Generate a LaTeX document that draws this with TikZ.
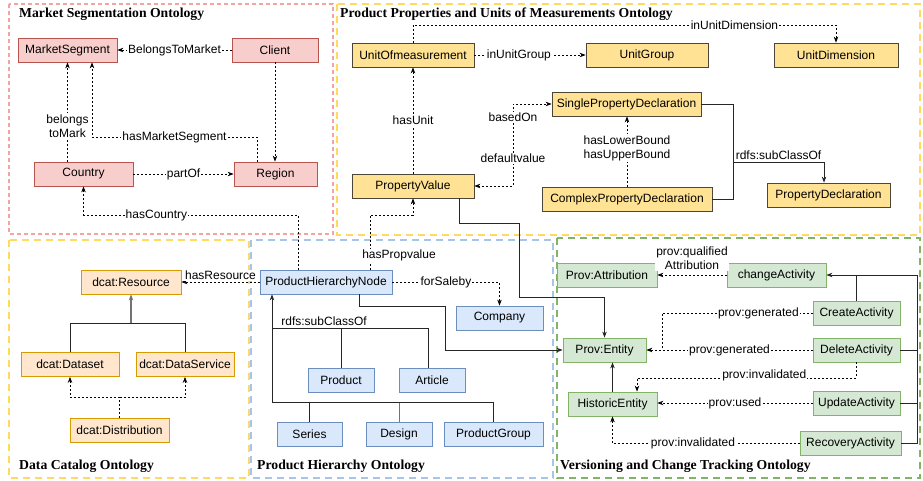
\documentclass[tikz,border=0pt]{standalone}
\usepackage{fontspec}
\setmainfont{Liberation Serif}
\setsansfont{Liberation Sans}
\usepackage{tikz}
\usetikzlibrary{positioning,arrows.meta,calc}
\definecolor{pinkfill}{HTML}{F8CECC}
\definecolor{pinkline}{HTML}{B85450}
\definecolor{pinkframe}{HTML}{F4A3A1}
\definecolor{yelfill}{HTML}{FFE293}
\definecolor{yelline}{HTML}{4D4536}
\definecolor{yelframe}{HTML}{FFD966}
\definecolor{orgfill}{HTML}{FFE6CC}
\definecolor{orgline}{HTML}{D79B00}
\definecolor{bluefill}{HTML}{DAE8FC}
\definecolor{blueline}{HTML}{6C8EBF}
\definecolor{blueframe}{HTML}{A9C4EB}
\definecolor{greenfill}{HTML}{D5E8D4}
\definecolor{greenline}{HTML}{82B366}
\newcommand{\lblfont}{\sffamily\fontsize{12}{14}\selectfont}
\tikzset{
  obj/.style={rectangle,line width=0.8pt,minimum height=24pt,inner sep=2pt,
    font=\lblfont},
  pk/.style={obj,draw=pinkline,fill=pinkfill},
  yl/.style={obj,draw=yelline,fill=yelfill},
  og/.style={obj,draw=orgline,fill=orgfill},
  bl/.style={obj,draw=blueline,fill=bluefill},
  gr/.style={obj,draw=greenline,fill=greenfill},
  pkframe/.style={draw=pinkframe,line width=1.4pt,dash pattern=on 4pt off 3pt},
  ylframe/.style={draw=yelframe,line width=1.8pt,dash pattern=on 7pt off 5pt},
  blframe/.style={draw=blueframe,line width=1.4pt,dash pattern=on 7pt off 5pt},
  grframe/.style={draw=greenline,line width=1.8pt,dash pattern=on 7pt off 5pt},
  grp/.style={font=\bfseries\fontsize{13.7}{15}\selectfont,anchor=west,inner sep=0pt},
  lbl/.style={fill=white,inner sep=1pt,font=\lblfont},
  dd/.style={draw=black,line width=0.7pt,dash pattern=on 2pt off 2pt},
  dl/.style={dd,-{Stealth[length=6pt,width=4.5pt]}},
  dlr/.style={dd,{Stealth[length=6pt,width=4.5pt]}-{Stealth[length=6pt,width=4.5pt]}},
  sl/.style={draw=black!85,line width=0.8pt},
  sla/.style={sl,-{Stealth[length=6pt,width=4.5pt]}},
}
\begin{document}
\begin{tikzpicture}[x=1pt,y=-1pt]
  \useasboundingbox (0,0) rectangle (923,481);
  % ontology frames
  \draw[pkframe] (9,4) rectangle (333,234);
  \draw[ylframe] (337,4) rectangle (920,235);
  \draw[ylframe] (9,240) rectangle (249,478);
  \draw[blframe] (251,240) rectangle (553,478);
  \draw[grframe] (557,238) rectangle (920,478);
  \node[grp] (tms) at (19,14) {Market Segmentation Ontology};
  \node[grp] (tpp) at (340,14) {Product Properties and Units of Measurements Ontology};
  \node[grp] (tdc) at (19,466) {Data Catalog Ontology};
  \node[grp] (tph) at (257,466) {Product Hierarchy Ontology};
  \node[grp] (tvc) at (560,466) {Versioning and Change Tracking Ontology};

  % market segmentation
  \node[pk,minimum width=99pt] (ms) at (67.5,50) {MarketSegment};
  \node[pk,minimum width=86pt] (cli) at (275,50) {Client};
  \node[pk,minimum width=99pt] (cty) at (83.5,174) {Country};
  \node[pk,minimum width=83pt] (reg) at (275.5,174) {Region};

  % product properties
  \node[yl,minimum width=122pt] (uom) at (413,55) {UnitOfmeasurement};
  \node[yl,minimum width=122pt] (ugr) at (647,55) {UnitGroup};
  \node[yl,minimum width=124pt] (udim) at (836,55) {UnitDimension};
  \node[yl,minimum width=149pt] (spd) at (626.5,104) {SinglePropertyDeclaration};
  \node[yl,minimum width=170pt] (cpd) at (627,199) {ComplexPropertyDeclaration};
  \node[yl,minimum width=123pt] (pdec) at (828.5,195) {PropertyDeclaration};
  \node[yl,minimum width=122pt] (pval) at (413,186) {PropertyValue};

  % data catalog
  \node[og,minimum width=100pt] (res) at (131,282) {dcat:Resource};
  \node[og,minimum width=98pt] (dset) at (70,364.5) {dcat:Dataset};
  \node[og,minimum width=98pt] (dsrv) at (185,364.5) {dcat:DataService};
  \node[og,minimum width=99pt] (dist) at (119.5,430) {dcat:Distribution};

  % product hierarchy
  \node[bl,minimum width=132pt] (phn) at (326,282) {ProductHierarchyNode};
  \node[bl,minimum width=87pt] (comp) at (499.5,318) {Company};
  \node[bl,minimum width=66pt] (prod) at (341,380.5) {Product};
  \node[bl,minimum width=66pt] (art) at (432,380.5) {Article};
  \node[bl,minimum width=65pt] (ser) at (309.5,434.5) {Series};
  \node[bl,minimum width=66pt] (des) at (399,434.5) {Design};
  \node[bl,minimum width=99pt] (pgr) at (493.5,434.5) {ProductGroup};

  % versioning
  \node[gr,minimum width=100pt] (attr) at (607,275) {Prov:Attribution};
  \node[gr,minimum width=99pt] (chg) at (776.5,275) {changeActivity};
  \node[gr,minimum width=87pt] (cre) at (856.5,313) {CreateActivity};
  \node[gr,minimum width=87pt] (del) at (856.5,350) {DeleteActivity};
  \node[gr,minimum width=87pt] (upd) at (856.5,403) {UpdateActivity};
  \node[gr,minimum width=101pt] (rec) at (850.5,443.5) {RecoveryActivity};
  \node[gr,minimum width=83pt] (ent) at (604.5,350) {Prov:Entity};
  \node[gr,minimum width=89pt] (hist) at (612.5,404) {HistoricEntity};

  % junctions
  \coordinate (pj) at (733,162);
  \coordinate (dj) at (119.5,397);
  \coordinate (rj) at (131,323);
  \coordinate (hj1) at (272,328);
  \coordinate (hj2) at (272,402);
  \coordinate (bus) at (917,275);
  \coordinate (gj) at (662,350);

  % market segmentation links
  \draw[dl] (cli) -- node[lbl]{BelongsToMarket} (ms);
  \draw[dl] (cli.south) -- (cli.south |- reg.north);
  \draw[dl] (cty.north -| ms.south) -- node[lbl,align=center,pos=0.36]{belongs\\toMark} (ms.south);
  \draw[dl] ([xshift=-18.5pt]reg.north) |- node[lbl,pos=0.75]{hasMarketSegment} (92,137) -- ([xshift=24.5pt]ms.south);
  \draw[dl] (cty) -- node[lbl]{partOf} (reg);
  \draw[dl] ([xshift=-28pt]phn.north) |- node[lbl,pos=0.83]{hasCountry} (83.5,215) -- (cty.south);

  % product properties links
  \draw[dl] (uom) -- node[lbl,pos=0.4]{inUnitGroup} (ugr);
  \draw[dl] (uom.north) |- node[lbl,pos=0.88]{inUnitDimension} (836,25) -- (udim.north);
  \draw[dl] (pval) -- node[lbl]{hasUnit} (uom);
  \draw[dlr] (pval.east) -| node[lbl,pos=0.67]{defaultvalue} node[lbl,pos=0.92]{basedOn} (513,104) -- (spd.west);
  \draw[dl] (cpd.north) -- node[lbl,align=center,pos=0.55]{hasLowerBound\\hasUpperBound} (cpd.north |- spd.south);
  \draw[sl] (spd.east) -- (spd.east -| pj) |- (cpd.east);
  \draw[sla] (pj) -| node[above,pos=0.25,font=\lblfont,inner sep=2pt]{rdfs:subClassOf} ([xshift=-4.5pt]pdec.north);
  \draw[sla] ([xshift=46pt]pval.south) -- (459,223) -- (519,223) -- (519,297) -| (ent.north);
  \draw[dl] ([xshift=44pt]phn.north) |- node[lbl,pos=0.13,xshift=29pt]{hasPropvalue} (413,215) -- (pval.south);

  % data catalog links
  \draw[dl] (phn.west) -- node[lbl,above=1pt]{hasResource} (res.east);
  \draw[sl] (dset.north) -- (dset.north |- rj) -- (dsrv.north |- rj) -- (dsrv.north);
  \draw[sla,draw=black!55,line width=1.2pt] (rj) -- (res.south);
  \draw[dd] (dist.north) -- (dj);
  \draw[dl] (dj) -| (dset.south);
  \draw[dl] (dj) -| (dsrv.south);

  % product hierarchy links
  \draw[dl] (phn.east) -| node[lbl,pos=0.25]{forSaleby} (comp.north);
  \draw[sla] ([xshift=33pt]phn.south) |- (445,306) |- (ent.west);
  \draw[sla] (hj2) -- (hj2 |- phn.south);
  \draw[sl] (hj1) -| node[anchor=south west,pos=0,xshift=7pt,font=\lblfont,inner sep=2pt]{rdfs:subClassOf} (prod.north);
  \draw[sl] (hj1) -| ([xshift=-4pt]art.north);
  \draw[sl] (hj2) -| (ser.north);
  \draw[sl,draw=black!55] (hj2) -| (des.north);
  \draw[sl] (hj2) -| (pgr.north);

  % versioning links
  \draw[dl] (chg) -- node[lbl,above=4pt,align=center]{prov:qualified\\Attribution} (attr);
  \draw[sla] (rec.east) -| (bus) -- (chg.east);
  \draw[sl] (cre.north) -- (cre.north |- bus);
  \draw[sl] (del.east) -- (del.east -| bus);
  \draw[sl] (upd.east) -- (upd.east -| bus);
  \draw[dd] (cre.west) -| node[lbl,pos=0.18]{prov:generated} (gj);
  \draw[dl] (del) -- node[lbl]{prov:generated} (ent);
  \draw[dl] (del.south) |- node[lbl,pos=0.71,yshift=3pt]{prov:invalidated} (637,378) -- ([xshift=24.5pt]hist.north);
  \draw[dl] (upd.west) -- node[lbl]{prov:used} (upd.west -| hist.east);
  \draw[dl] (rec.west) -| node[lbl,pos=0.285]{prov:invalidated} (hist.south);
  \draw[sla] (hist.north) -- (hist.north |- ent.south);
\end{tikzpicture}
\end{document}
